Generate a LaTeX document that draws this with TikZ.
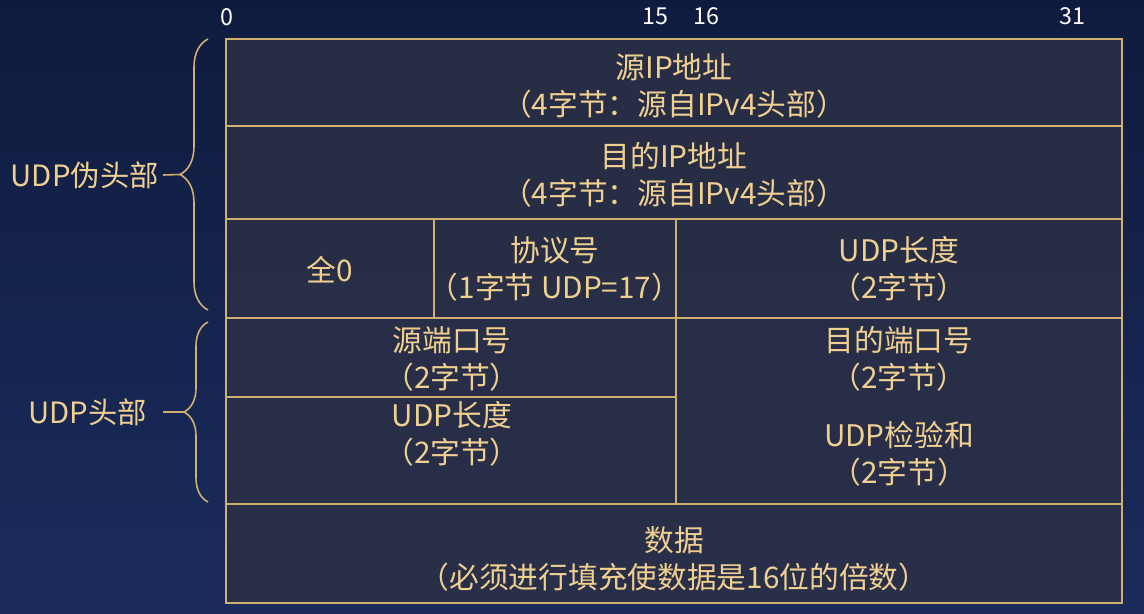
\documentclass[tikz,border=0pt]{standalone}
\usepackage{fontspec}
\newfontfamily\cjk{Noto Sans CJK SC}
\usetikzlibrary{decorations.pathreplacing}
\definecolor{bgtop}{RGB}{15,27,62}
\definecolor{bgbot}{RGB}{27,44,92}
\definecolor{cellfill}{RGB}{44,48,70}
\definecolor{gold}{RGB}{208,176,112}
\definecolor{txt}{RGB}{240,208,145}
\begin{document}
\begin{tikzpicture}[x=0.75pt,y=-0.75pt,
  frame/.style={draw=gold, line width=1.4pt},
  lbl/.style={text=txt, align=center, inner sep=0pt,
    font={\cjk\fontsize{22.3}{27.75}\selectfont}},
  side/.style={text=txt, inner sep=0pt, anchor=east,
    font={\cjk\fontsize{22}{25}\selectfont}},
  bitnum/.style={text=white, inner sep=0pt,
    font={\cjk\fontsize{17.5}{19}\selectfont}},
  bracestyle/.style={draw=gold, line width=1.2pt, decorate},
  tick/.style={draw=gold, line width=1.2pt}]
% background
\shade[top color=bgtop, bottom color=bgbot] (0,0) rectangle (1144,613);
\useasboundingbox (0,0) rectangle (1144,613);
% table body
\fill[cellfill, opacity=0.85] (226,39) rectangle (1122,603);
\draw[frame] (226,39) rectangle (1122,603);
\draw[frame] (226,126) -- (1122,126);
\draw[frame] (226,219) -- (1122,219);
\draw[frame] (226,318) -- (1122,318);
\draw[frame] (226,397) -- (676,397);
\draw[frame] (226,504) -- (1122,504);
\draw[frame] (434,219) -- (434,318);
\draw[frame] (676,219) -- (676,504);
% bit numbers
\node[bitnum] (b0) at (227,17) {0};
\node[bitnum] (b15) at (655,16) {15};
\node[bitnum] (b16) at (706,16) {16};
\node[bitnum] (b31) at (1072,16) {31};
% cell texts
\node[lbl] (srcip) at (674,85.5) {源IP地址\\（4字节：源自IPv4头部）};
\node[lbl] (dstip) at (674,175) {目的IP地址\\（4字节：源自IPv4头部）};
\node[lbl] (zero) at (330,270) {全0};
\node[lbl] (proto) at (555,269) {协议号\\（1字节 UDP=17）};
\node[lbl] (plen) at (899,269) {UDP长度\\（2字节）};
\node[lbl] (sport) at (452,358.5) {源端口号\\（2字节）};
\node[lbl] (dport) at (899,358.5) {目的端口号\\（2字节）};
\node[lbl] (ulen) at (452,433.5) {UDP长度\\（2字节）};
\node[lbl] (csum) at (899,453.5) {UDP检验和\\（2字节）};
\node[lbl] (data) at (674,558.5) {数据\\（必须进行填充使数据是16位的倍数）};
% braces
\draw[bracestyle, decoration={brace, amplitude=21pt, aspect=0.5}] (208,310) -- (208,39);
\coordinate (tip1) at (180,174.5);
\draw[bracestyle, decoration={brace, amplitude=18pt, aspect=0.5}] (208,502) -- (208,322);
\coordinate (tip2) at (184,412);
% side labels
\node[side] (pseudo) at (159,175) {UDP伪头部};
\node[side] (hdr) at (147,412) {UDP头部};
\draw[tick] ([xshift=3pt]pseudo.east) -- (tip1);
\draw[tick] ([xshift=12pt]hdr.east) -- (tip2);
\end{tikzpicture}
\end{document}
